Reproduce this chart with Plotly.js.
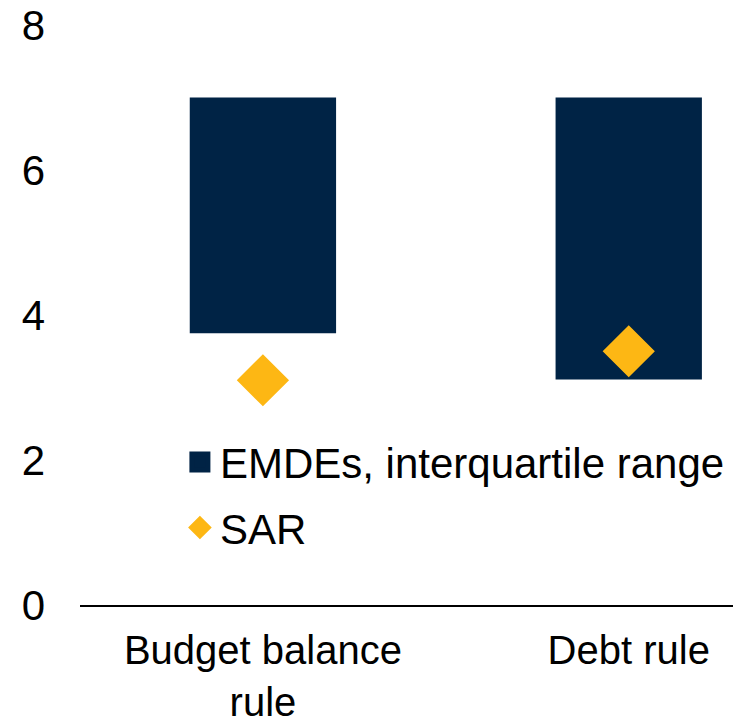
<!DOCTYPE html>
<html>
<head>
<meta charset="utf-8">
<script src="https://cdn.plot.ly/plotly-3.0.1.min.js"></script>
<style>html,body{margin:0;padding:0;background:#fff;}#chart{width:733px;height:723px;}</style>
</head>
<body>
<div id="chart"></div>
<script>
// Data
const categories = ['Budget balance<br>rule', 'Debt rule'];
const emdeQ1 = [3.75, 3.11];   // lower quartile (bar bottom)
const emdeQ3 = [7.0, 7.0];     // upper quartile (bar top)
const sarValues = [3.1, 3.5];
const yTickVals = [0, 2, 4, 6, 8];
const seriesNames = ['EMDEs, interquartile range', 'SAR'];

const NAVY = '#002345';
const GOLD = '#FDB714';
const FONT = '"Liberation Sans", Arial, sans-serif';

const iqrHeights = emdeQ3.map((v, i) => v - emdeQ1[i]);

const traces = [
  {
    type: 'bar',
    x: categories,
    y: iqrHeights,
    base: emdeQ1,
    marker: {color: NAVY},
    showlegend: false,
    hoverinfo: 'skip'
  },
  {
    // legend entry for the bars (bigger square than Plotly's bar legend glyph)
    type: 'scatter',
    mode: 'markers',
    x: [null],
    y: [null],
    name: seriesNames[0],
    legendgroup: 'g1',
    marker: {symbol: 'square', color: NAVY, size: 16, line: {color: NAVY, width: 5}}
  },
  {
    type: 'scatter',
    mode: 'markers',
    x: categories,
    y: sarValues,
    name: seriesNames[1],
    legendgroup: 'g2',
    marker: {symbol: 'diamond', color: GOLD, size: 38, line: {color: GOLD, width: 2}}
  }
];

const layout = {
  width: 733,
  height: 723,
  margin: {l: 80, r: 0, t: 25, b: 118, pad: 0},
  paper_bgcolor: '#ffffff',
  plot_bgcolor: '#ffffff',
  font: {family: FONT, size: 42, color: '#000000'},
  bargap: 0.6,
  showlegend: true,
  legend: {
    x: 0.153, xanchor: 'left',
    y: 0.305, yanchor: 'top',
    bgcolor: 'rgba(0,0,0,0)',
    font: {family: FONT, size: 42, color: '#000000'},
    traceorder: 'grouped',
    tracegroupgap: 8
  },
  xaxis: {
    type: 'category',
    range: [-0.5, 1.285],
    showline: true,
    linecolor: '#000000',
    linewidth: 2,
    showgrid: false,
    zeroline: false,
    ticks: '',
    ticklabelstandoff: 9,
    tickfont: {family: FONT, size: 40, color: '#000000'}
  },
  yaxis: {
    range: [0, 8],
    tickvals: yTickVals,
    showline: false,
    showgrid: false,
    zeroline: false,
    ticks: '',
    ticklabelstandoff: 34,
    tickfont: {family: FONT, size: 42, color: '#000000'}
  }
};

Plotly.newPlot('chart', traces, layout, {displayModeBar: false, staticPlot: true});
</script>
</body>
</html>
